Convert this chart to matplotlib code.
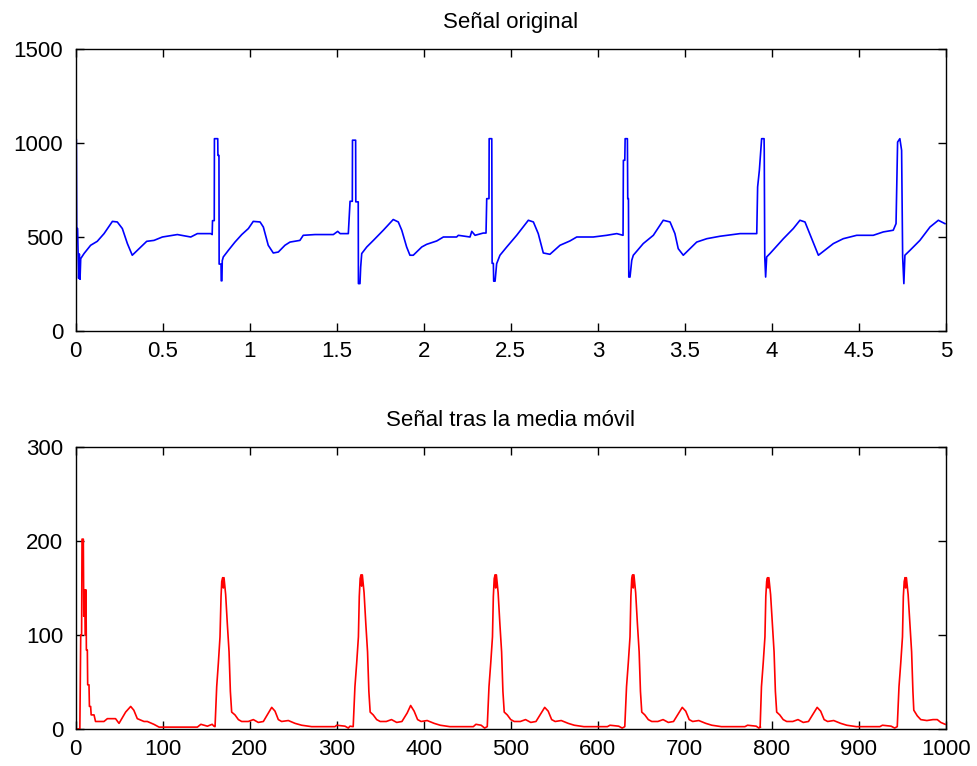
import matplotlib
matplotlib.use("Agg")
import matplotlib.pyplot as plt

# ---- Top panel: original ECG signal (time in s, amplitude) ----
t_orig = [
    0.000, 0.005, 0.007, 0.012, 0.015, 0.018, 0.022, 0.026, 0.030, 0.049, 0.087, 0.125,
    0.164, 0.212, 0.240, 0.269, 0.298, 0.326, 0.365, 0.409, 0.451, 0.499, 0.585, 0.662,
    0.700, 0.777, 0.785, 0.787, 0.797, 0.798, 0.817, 0.818, 0.824, 0.825, 0.836, 0.837,
    0.841, 0.843, 0.849, 0.878, 0.916, 0.955, 0.993, 1.021, 1.060, 1.079, 1.107, 1.136,
    1.165, 1.203, 1.232, 1.289, 1.308, 1.376, 1.481, 1.506, 1.520, 1.567, 1.577, 1.590,
    1.591, 1.609, 1.610, 1.624, 1.625, 1.634, 1.638, 1.644, 1.673, 1.711, 1.768, 1.825,
    1.854, 1.874, 1.902, 1.921, 1.940, 1.989, 2.017, 2.075, 2.113, 2.189, 2.199, 2.266,
    2.276, 2.295, 2.342, 2.358, 2.362, 2.375, 2.376, 2.391, 2.393, 2.400, 2.402, 2.410,
    2.419, 2.438, 2.477, 2.534, 2.601, 2.630, 2.658, 2.687, 2.725, 2.783, 2.840, 2.879,
    2.974, 3.051, 3.109, 3.145, 3.147, 3.155, 3.157, 3.170, 3.172, 3.176, 3.178, 3.185,
    3.195, 3.204, 3.261, 3.319, 3.376, 3.415, 3.443, 3.462, 3.491, 3.568, 3.626, 3.702,
    3.817, 3.913, 3.918, 3.928, 3.941, 3.955, 3.956, 3.959, 3.964, 3.970, 3.989, 4.066,
    4.123, 4.161, 4.190, 4.229, 4.267, 4.353, 4.410, 4.487, 4.582, 4.640, 4.697, 4.713,
    4.722, 4.735, 4.745, 4.751, 4.758, 4.764, 4.793, 4.850, 4.908, 4.956, 4.994,
]
v_orig = [
    1020, 1020, 545, 545, 420, 280, 410, 275, 385, 412, 456, 477,
    518, 583, 580, 545, 465, 403, 438, 477, 482, 500, 513, 500,
    518, 518, 513, 587, 587, 1023, 1023, 934, 934, 356, 356, 267,
    267, 374, 394, 429, 473, 513, 545, 583, 580, 553, 456, 415,
    420, 456, 473, 482, 509, 513, 513, 530, 518, 518, 690, 690,
    1015, 1015, 687, 687, 252, 252, 340, 412, 447, 482, 536, 593,
    580, 536, 447, 403, 403, 447, 461, 479, 500, 500, 509, 500,
    530, 509, 521, 521, 704, 704, 1023, 1023, 360, 360, 265, 265,
    358, 403, 447, 509, 589, 580, 518, 415, 408, 456, 479, 500,
    500, 509, 518, 509, 908, 908, 1023, 1023, 704, 704, 287, 287,
    376, 403, 465, 509, 589, 580, 518, 438, 403, 473, 491, 504,
    518, 518, 766, 855, 1023, 1023, 960, 394, 287, 394, 412, 491,
    545, 589, 580, 491, 403, 465, 491, 509, 509, 527, 536, 571,
    1005, 1023, 961, 394, 252, 403, 429, 482, 553, 589, 571,
]

# ---- Bottom panel: signal after moving average (sample index, amplitude) ----
n_filt = [
    0, 5, 6, 7, 7.5, 9, 9.5, 10.5, 11.5, 12, 12.5, 13.6, 14, 15.5, 16, 17.4, 18, 21.3,
    23, 32.7, 36.6, 46, 50, 57.6, 63.4, 67, 71, 78.7, 82.5, 90, 96, 140, 144, 151.5, 157, 159,
    160.3, 162.2, 164.1, 166, 167.2, 168, 169.1, 169.8, 170.6, 172.5, 174.4, 176.4, 177.9,
    179.4, 183.2, 187.1, 190.9, 198.5, 204.3, 210, 215.8, 221.5, 225.4, 229.2, 233, 236.8,
    244.5, 252.2, 259.8, 271.3, 298.1, 300, 309.6, 313.4, 315.3,
    319, 321, 323, 325, 326, 327, 328, 328.7, 329.5, 331.5, 333.5, 335.5, 337, 338.5, 342,
    346, 350, 357, 363, 369, 375, 381, 385, 389, 393, 397, 404, 412, 419, 430, 457, 460,
    466, 470, 472,
    473, 475, 477, 479, 480, 481, 482, 482.7, 483.5, 485.5, 487.5, 489.5, 491, 492.5, 496,
    500, 504, 511, 517, 523, 529, 535, 539, 543, 547, 551, 558, 566, 573, 584, 611, 614,
    624, 628, 630,
    631, 633, 635, 637, 638, 639, 640, 640.7, 641.5, 643.5, 645.5, 647.5, 649, 650.5, 654,
    658, 662, 669, 675, 681, 687, 693, 697, 701, 705, 709, 716, 724, 731, 742, 769, 772,
    782, 785, 787,
    786.5, 788, 790, 792, 793, 794, 795, 795.7, 796.5, 798.5, 800.5, 802.5, 804, 805.5, 809,
    813, 817, 824, 830, 836, 842, 848, 852, 856, 860, 864, 871, 879, 886, 897, 924, 927,
    937, 941, 943,
    944, 946, 948, 950, 951, 952, 953, 953.7, 954.5, 956.5, 958.5, 960.5, 962, 963, 967,
    971, 978, 985, 990, 994, 999,
]
v_filt = [
    0, 0, 100, 100, 202, 202, 120, 148, 100, 148, 84, 84, 47, 47, 24, 24, 15, 15,
    8, 8, 11, 11, 6, 18, 24, 20, 11, 8, 8, 5, 2, 2, 5, 3, 5, 3,
    2.5, 45, 70, 98, 141, 157, 161, 150, 161, 143, 112, 82, 40,
    18, 15, 10, 8, 8, 10, 7, 8, 17, 23, 19, 10, 8,
    9, 6, 4, 2.5, 2.5, 4, 3, 1, 3,
    2.5, 45, 70, 98, 141, 160, 164, 152, 164, 145, 112, 82, 40, 18, 15,
    10, 8, 8, 10, 7, 8, 17, 25, 19, 10, 8, 9, 6, 4, 2.5, 2.5, 5,
    4, 1, 2,
    2.5, 45, 70, 98, 141, 160, 164, 150, 164, 145, 112, 82, 40, 18, 15,
    10, 8, 8, 10, 7, 8, 17, 23, 19, 10, 8, 9, 6, 4, 2.5, 2.5, 4,
    3, 1, 2,
    2.5, 45, 70, 98, 141, 160, 164, 150, 164, 145, 112, 82, 40, 18, 15,
    10, 8, 8, 10, 7, 8, 17, 23, 19, 10, 8, 9, 6, 4, 2.5, 2.5, 4,
    3, 1, 2,
    2.5, 45, 70, 98, 141, 157, 161, 150, 161, 143, 112, 82, 40, 18, 15,
    10, 8, 8, 10, 7, 8, 17, 23, 19, 10, 8, 9, 6, 4, 2.5, 2.5, 4,
    3, 1, 2,
    2.5, 45, 70, 98, 141, 157, 161, 150, 161, 143, 112, 82, 40, 20, 14,
    10, 9, 10, 10, 7, 5,
]

title_top = "Señal original"
title_bottom = "Señal tras la media móvil"
xticks_top = [0, 0.5, 1, 1.5, 2, 2.5, 3, 3.5, 4, 4.5, 5]
xticklabels_top = ["0", "0.5", "1", "1.5", "2", "2.5", "3", "3.5", "4", "4.5", "5"]
yticks_top = [0, 500, 1000, 1500]
xticks_bottom = [0, 100, 200, 300, 400, 500, 600, 700, 800, 900, 1000]
yticks_bottom = [0, 100, 200, 300]

plt.rcParams['font.family'] = ['Liberation Sans', 'DejaVu Sans']

fig = plt.figure(figsize=(9.77, 7.66), dpi=100)
W, H = 977.0, 766.0
ax1 = fig.add_axes([75.5 / W, 1 - 331 / H, 870.5 / W, 282 / H])
ax2 = fig.add_axes([75.5 / W, 1 - 729 / H, 870.5 / W, 282 / H])

ax1.plot(t_orig, v_orig, color=(0, 0, 1), lw=1.2)
ax2.plot(n_filt, v_filt, color=(1, 0, 0), lw=1.2)

ax1.set_xlim(0, 5)
ax1.set_ylim(0, 1500)
ax1.set_xticks(xticks_top)
ax1.set_xticklabels(xticklabels_top)
ax1.set_yticks(yticks_top)
ax1.set_title(title_top, fontsize=16, pad=15)

ax2.set_xlim(0, 1000)
ax2.set_ylim(0, 300)
ax2.set_xticks(xticks_bottom)
ax2.set_yticks(yticks_bottom)
ax2.set_title(title_bottom, fontsize=16, pad=15)

for ax in (ax1, ax2):
    ax.tick_params(direction='in', length=6, width=1, top=True, right=True,
                   labelsize=16, colors='black')
    ax.tick_params(axis='x', pad=7)
    ax.tick_params(axis='y', pad=9)
    for s in ax.spines.values():
        s.set_linewidth(1.0)
        s.set_color('black')

fig.savefig("out.png", dpi=100)
